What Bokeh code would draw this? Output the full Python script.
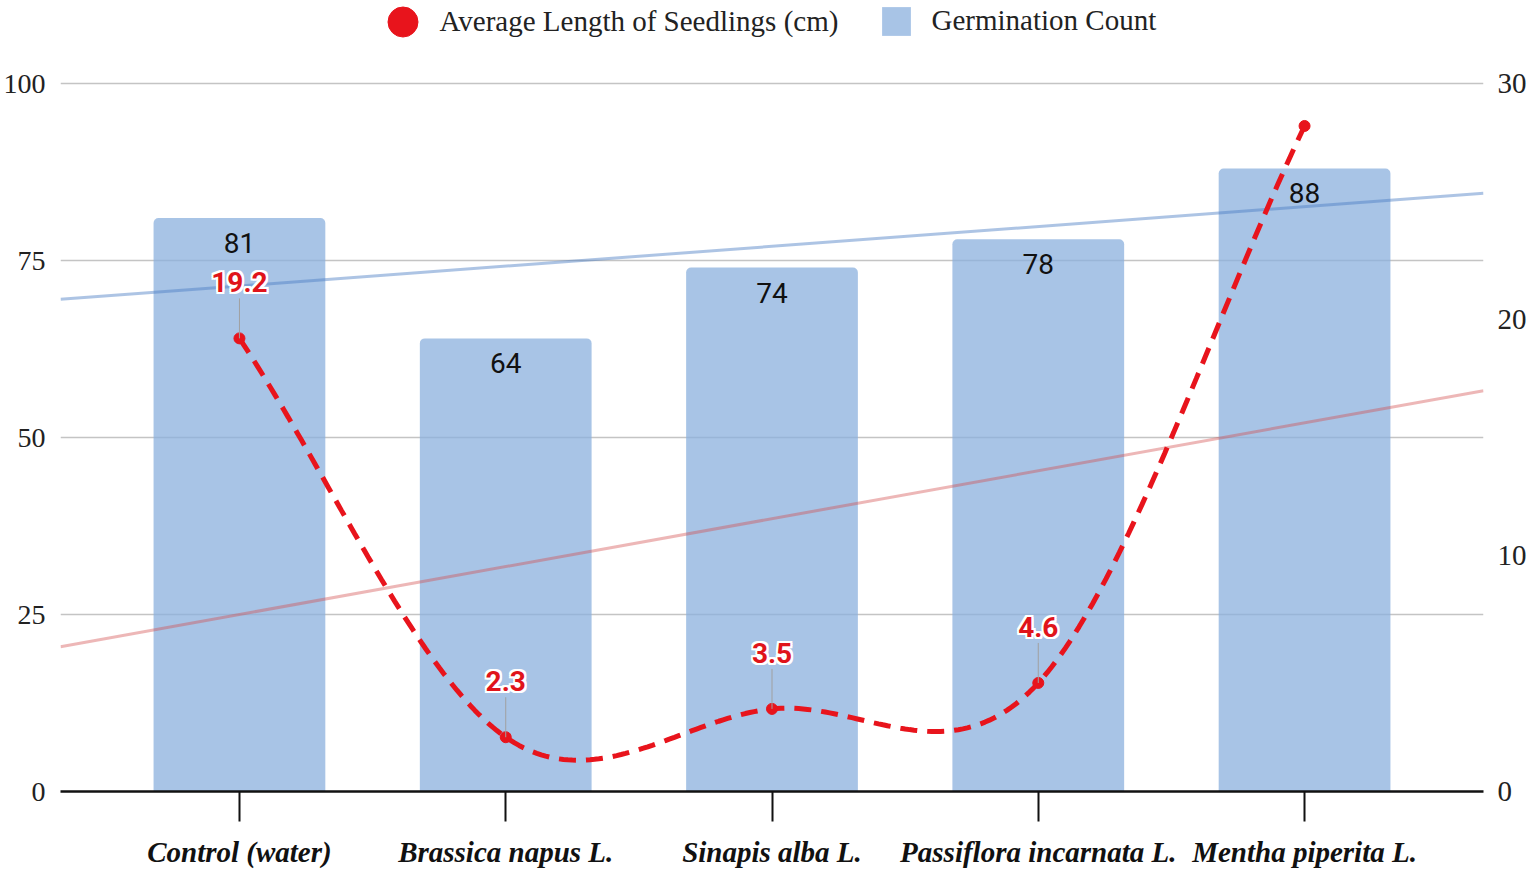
import numpy as np
from bokeh.plotting import figure
from bokeh.models import Range1d, LinearAxis, FixedTicker, Legend, LegendItem
from bokeh.core.properties import value
from bokeh.embed import file_html
from bokeh.resources import INLINE

# ---------------- data ----------------
categories = ["Control (water)", "Brassica napus L.", "Sinapis alba L.",
              "Passiflora incarnata L.", "Mentha piperita L."]
germination = [81, 64, 74, 78, 88]
seedling_len = [19.2, 2.3, 3.5, 4.6, 28.2]
len_label_text = ["19.2", "2.3", "3.5", "4.6", ""]   # last label hidden in the original
left_ticks = [0, 25, 50, 75, 100]
right_ticks = [0, 10, 20, 30]

LEFT_MAX_TICK, RIGHT_MAX_TICK = 100, 30

# ---------------- layout (pixels) ----------------
W, H = 1535, 872
BORDER_L, BORDER_R, BORDER_B = 60, 52, 81
FRAME_H = H - BORDER_B              # frame reaches the top of the canvas
TOP_TICK_PX = 83                    # where the 100 / 30 gridline sits from the top
scale = FRAME_H / (FRAME_H - TOP_TICK_PX)

xs = np.arange(len(categories), dtype=float)
X_LO, X_HI = -0.672, len(categories) - 1 + 0.672


def smooth_curve(xv, yv, n=60):
    """Cardinal (Catmull-Rom) spline through the data points."""
    yv = np.asarray(yv, float)
    m = np.empty_like(yv)
    m[1:-1] = (yv[2:] - yv[:-2]) / 2.0
    m[0] = yv[1] - yv[0]
    m[-1] = yv[-1] - yv[-2]
    ox, oy = [], []
    for i in range(len(yv) - 1):
        t = np.linspace(0, 1, n, endpoint=(i == len(yv) - 2))
        h00 = 2 * t**3 - 3 * t**2 + 1
        h10 = t**3 - 2 * t**2 + t
        h01 = -2 * t**3 + 3 * t**2
        h11 = t**3 - t**2
        ox.extend(xv[i] + t * (xv[i + 1] - xv[i]))
        oy.extend(h00 * yv[i] + h10 * m[i] + h01 * yv[i + 1] + h11 * m[i + 1])
    return ox, oy


# ---------------- figure ----------------
p = figure(width=W, height=H,
           x_range=Range1d(X_LO, X_HI), y_range=Range1d(0, LEFT_MAX_TICK * scale),
           output_backend="svg", toolbar_location=None,
           min_border_left=BORDER_L, min_border_right=BORDER_R,
           min_border_top=0, min_border_bottom=BORDER_B)
p.extra_y_ranges = {"len": Range1d(0, RIGHT_MAX_TICK * scale)}
p.outline_line_color = None
p.background_fill_color = "white"

# grid
p.xgrid.visible = False
p.ygrid.ticker = FixedTicker(ticks=left_ticks)
p.ygrid.grid_line_color = "#c4c4c4"
p.ygrid.grid_line_width = 1.5

# left axis
yl = p.yaxis[0]
yl.ticker = FixedTicker(ticks=left_ticks)
yl.axis_line_color = None
yl.major_tick_line_color = None
yl.major_tick_out = 0
yl.major_tick_in = 0
yl.minor_tick_line_color = None
yl.minor_tick_out = 0
yl.major_label_text_font = "Liberation Serif"
yl.major_label_text_font_size = "28px"
yl.major_label_text_color = "#222222"
yl.major_label_standoff = 15

# right axis
yr = LinearAxis(y_range_name="len", ticker=FixedTicker(ticks=right_ticks))
yr.axis_line_color = None
yr.major_tick_line_color = None
yr.major_tick_out = 0
yr.major_tick_in = 0
yr.minor_tick_line_color = None
yr.minor_tick_out = 0
yr.major_label_text_font = "Liberation Serif"
yr.major_label_text_font_size = "29px"
yr.major_label_text_color = "#222222"
yr.major_label_standoff = 14
p.add_layout(yr, "right")

# x axis
xa = p.xaxis[0]
xa.ticker = FixedTicker(ticks=list(range(len(categories))))
xa.major_label_overrides = {i: c for i, c in enumerate(categories)}
xa.axis_line_color = "#111111"
xa.axis_line_width = 2.5
xa.major_tick_line_color = "#111111"
xa.major_tick_line_width = 2
xa.major_tick_out = 30
xa.major_tick_in = 0
xa.minor_tick_line_color = None
xa.minor_tick_out = 0
xa.major_label_text_font = "Liberation Serif"
xa.major_label_text_font_style = "bold italic"
xa.major_label_text_font_size = "29px"
xa.major_label_text_color = "#111111"
xa.major_label_standoff = 14

# bars
bars = p.vbar(x=xs, top=germination, width=0.645,
              fill_color="#8bb0dd", fill_alpha=0.75, line_color=None,
              border_radius=(5, 5, 0, 0))

# trend lines (least squares)
tx = np.array([X_LO, X_HI])
b1, b0 = np.polyfit(xs, germination, 1)
p.line(tx, b0 + b1 * tx, line_color="#4a7cc4", line_alpha=0.45, line_width=3)
c1, c0 = np.polyfit(xs, seedling_len, 1)
p.line(tx, c0 + c1 * tx, y_range_name="len",
       line_color="#d34a4a", line_alpha=0.4, line_width=3)

# bar value labels
p.text(x=xs, y=germination, text=[str(v) for v in germination],
       text_align="center", text_baseline="middle", y_offset=25,
       text_font=value("Roboto"), text_font_size="28px", text_color="#111111")

# smooth dashed seedling line
sx, sy = smooth_curve(xs, seedling_len)
p.line(sx, sy, y_range_name="len", line_color="#e8141c",
       line_width=5, line_dash="17 10")
pts = p.scatter(xs, seedling_len, y_range_name="len", size=11,
                marker="circle", fill_color="#e8141c", line_color="#e8141c")

# leader lines and value labels for the seedling series
lab_idx = [i for i, t in enumerate(len_label_text) if t]
lx = [xs[i] for i in lab_idx]
ly = [seedling_len[i] for i in lab_idx]
lt = [len_label_text[i] for i in lab_idx]
lead = RIGHT_MAX_TICK * 40 / (FRAME_H - TOP_TICK_PX)
p.segment(x0=lx, y0=ly, x1=lx, y1=[v + lead for v in ly], y_range_name="len",
          line_color="#a0a0a0", line_width=1)
# white halo behind the labels
for dx, dy in [(-2, 0), (2, 0), (0, -2), (0, 2), (-2, -2), (2, 2), (-2, 2), (2, -2)]:
    p.text(x=lx, y=ly, text=lt, y_range_name="len",
           text_align="center", text_baseline="middle",
           x_offset=dx, y_offset=-56 + dy,
           text_font=value("Roboto"), text_font_size="28px",
           text_font_style="bold", text_color="white")
p.text(x=lx, y=ly, text=lt, y_range_name="len",
       text_align="center", text_baseline="middle", y_offset=-56,
       text_font=value("Roboto"), text_font_size="28px",
       text_font_style="bold", text_color="#e0141b")

# legends (placed inside the tall frame, above the 100 gridline)
leg1 = Legend(items=[LegendItem(label="Average Length of Seedlings (cm)", renderers=[pts])],
              location=(304.5, FRAME_H + 16.5 - 75), orientation="horizontal",
              glyph_width=75, glyph_height=75, label_standoff=0,
              padding=0, margin=0, border_line_color=None,
              background_fill_alpha=0,
              label_text_font="Liberation Serif", label_text_font_size="29px",
              label_text_color="#222222")
leg2 = Legend(items=[LegendItem(label="Germination Count", renderers=[bars])],
              location=(817.5, FRAME_H - 2.5 - 36), orientation="horizontal",
              glyph_width=36, glyph_height=36, label_standoff=18,
              padding=0, margin=0, border_line_color=None,
              background_fill_alpha=0,
              label_text_font="Liberation Serif", label_text_font_size="29px",
              label_text_color="#222222")
p.add_layout(leg1, "center")
p.add_layout(leg2, "center")

open("out.html", "w").write(file_html(p, INLINE))
